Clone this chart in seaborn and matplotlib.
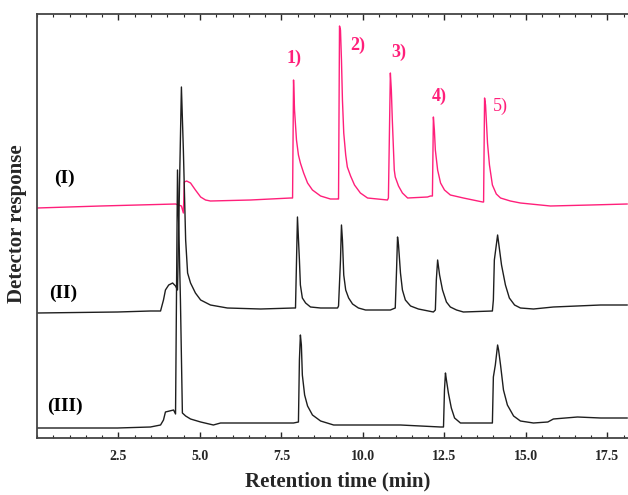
import numpy as np
import pandas as pd
import matplotlib
matplotlib.use("Agg")
import matplotlib.pyplot as plt
from matplotlib.ticker import MultipleLocator
import seaborn as sns

# Chromatogram traces: retention time (min) and response (a.u.)
t_I = [0.0, 1.95, 4.25, 4.43, 4.49, 4.52, 4.59, 4.71, 4.86, 5.02, 5.17, 5.32, 6.55, 7.78,
       7.84, 7.87, 7.90, 7.96, 8.02, 8.08, 8.18, 8.30, 8.45, 8.70, 9.00, 9.22,
       9.25, 9.28, 9.31, 9.34, 9.37, 9.41, 9.47, 9.52, 9.62, 9.74, 9.92, 10.14, 10.75,
       10.78, 10.84, 10.87, 10.90, 10.96, 10.99, 11.09, 11.21, 11.37, 11.98,
       12.07, 12.13, 12.16, 12.19, 12.22, 12.29, 12.38, 12.50, 12.68, 13.08, 13.67,
       13.70, 13.73, 13.76, 13.82, 13.88, 13.97, 14.09, 14.22, 14.52, 14.83, 15.75, 16.98, 18.11]
r_I = [230, 232, 234, 232, 225, 256, 257, 255, 248, 241, 238, 237, 238, 240,
       240, 358, 328, 298, 283, 275, 265, 255, 248, 242, 239, 239,
       239, 412, 408, 378, 338, 305, 283, 271, 262, 253, 245, 240, 238,
       240, 365, 348, 318, 268, 261, 252, 245, 240, 241,
       242, 242, 321, 308, 288, 268, 255, 248, 243, 240, 236,
       236, 340, 333, 295, 273, 253, 244, 240, 237, 235, 232, 233, 234]

t_II = [0.0, 2.47, 3.48, 3.79, 3.88, 3.94, 4.04, 4.16, 4.25, 4.31, 4.43, 4.49, 4.56, 4.62,
        4.71, 4.86, 5.02, 5.32, 5.84, 6.86, 7.87, 7.93, 7.99, 8.05, 8.08, 8.14, 8.24, 8.39,
        8.70, 9.22, 9.25, 9.31, 9.34, 9.37, 9.41, 9.47, 9.56, 9.68, 9.86, 10.08, 10.84,
        10.99, 11.03, 11.06, 11.09, 11.15, 11.21, 11.30, 11.46, 11.70, 12.16,
        12.22, 12.25, 12.29, 12.35, 12.44, 12.56, 12.68, 12.87, 13.08, 13.97,
        14.00, 14.03, 14.13, 14.19, 14.25, 14.37, 14.49, 14.65, 14.83, 15.23, 15.84, 17.29, 18.11]
r_II = [125, 126, 127, 127, 138, 148, 153, 155, 152, 148, 351, 288, 198, 165,
        155, 145, 138, 133, 130, 129, 130, 130, 221, 178, 153, 140, 135, 131,
        130, 130, 132, 178, 213, 198, 163, 148, 140, 134, 130, 128, 128,
        130, 168, 201, 193, 165, 148, 138, 132, 129, 126,
        128, 158, 178, 163, 148, 136, 131, 128, 126, 127,
        138, 178, 203, 188, 173, 153, 140, 133, 130, 129, 131, 133, 133]

t_III = [0.0, 2.47, 3.48, 3.79, 3.88, 3.94, 4.19, 4.25, 4.31, 4.40, 4.46, 4.56, 4.71, 5.02,
         5.41, 5.63, 7.87, 8.02, 8.05, 8.08, 8.11, 8.14, 8.21, 8.30, 8.45, 8.70, 9.10, 11.15,
         12.38, 12.47, 12.50, 12.53, 12.56, 12.62, 12.71, 12.81, 12.99, 13.82, 13.97,
         14.00, 14.06, 14.13, 14.16, 14.22, 14.31, 14.43, 14.62, 14.83, 15.23, 15.67,
         15.84, 16.58, 17.29, 18.11]
r_III = [10, 10, 11, 13, 18, 26, 28, 24, 268, 138, 25, 22, 19, 16,
         13, 15, 15, 16, 78, 103, 93, 63, 43, 32, 23, 17, 13, 13,
         11, 11, 48, 65, 58, 45, 30, 20, 15, 15, 15,
         61, 73, 93, 88, 73, 48, 33, 22, 17, 15, 16,
         19, 21, 20, 20]

trace_names = ["(I)", "(II)", "(III)"]
trace_label_pos = [(0.85, 260), (0.80, 145), (0.87, 32)]
peak_labels = ["1)", "2)", "3)", "4)", "5)"]
peak_label_pos = [(7.87, 380), (9.85, 393), (11.10, 386), (12.35, 342), (14.20, 332)]

pink = "#ff1f7a"
dark = "#1e1e1e"

sns.set_style("ticks")
plt.rcParams["font.family"] = ["Liberation Serif", "DejaVu Serif"]

fig = plt.figure(figsize=(6.28, 4.95), dpi=100)
ax = fig.add_axes([37 / 628, 57 / 495, 591 / 628, 424 / 495])

sns.lineplot(x=t_I, y=r_I, ax=ax, color=pink, lw=1.0, estimator=None, sort=False)
sns.lineplot(x=t_II, y=r_II, ax=ax, color=dark, lw=1.0, estimator=None, sort=False)
sns.lineplot(x=t_III, y=r_III, ax=ax, color=dark, lw=1.0, estimator=None, sort=False)

for name, (x, y) in zip(trace_names, trace_label_pos):
    ax.text(x, y, name, fontsize=14, fontweight="bold", color="black", ha="center", va="center")
for i, (lab, (x, y)) in enumerate(zip(peak_labels, peak_label_pos)):
    ax.text(x, y, lab, fontsize=13, fontweight="bold" if i < 4 else "normal",
            color=pink, ha="center", va="center")

ax.set_xlim(0, 18.13)
ax.set_ylim(0, 424)
ax.xaxis.set_minor_locator(MultipleLocator(0.5))
ax.set_xticks([2.5, 5.0, 7.5, 10.0, 12.5, 15.0, 17.5])
ax.set_xticklabels(["2.5", "5.0", "7.5", "10.0", "12.5", "15.0", "17.5"])
ax.set_yticks([])
ax.tick_params(axis="x", which="both", direction="in", top=True, labelsize=10, pad=9)
ax.tick_params(axis="x", which="major", length=4, width=1)
ax.tick_params(axis="x", which="minor", length=2.5, width=0.8)
for lab in ax.get_xticklabels():
    lab.set_fontweight("bold")

for side in ["left", "bottom", "top"]:
    ax.spines[side].set_color("#444444")
    ax.spines[side].set_linewidth(1.3)
ax.spines["right"].set_visible(False)

ax.set_xlabel("Retention time (min)", fontsize=15, fontweight="bold")
ax.set_ylabel("Detector response", fontsize=15, fontweight="bold")
ax.xaxis.set_label_coords(0.508, -0.080)
ax.yaxis.set_label_coords(-0.017, 0.505)
ax.xaxis.label.set_va("top")

fig.savefig("out.png", dpi=100)
